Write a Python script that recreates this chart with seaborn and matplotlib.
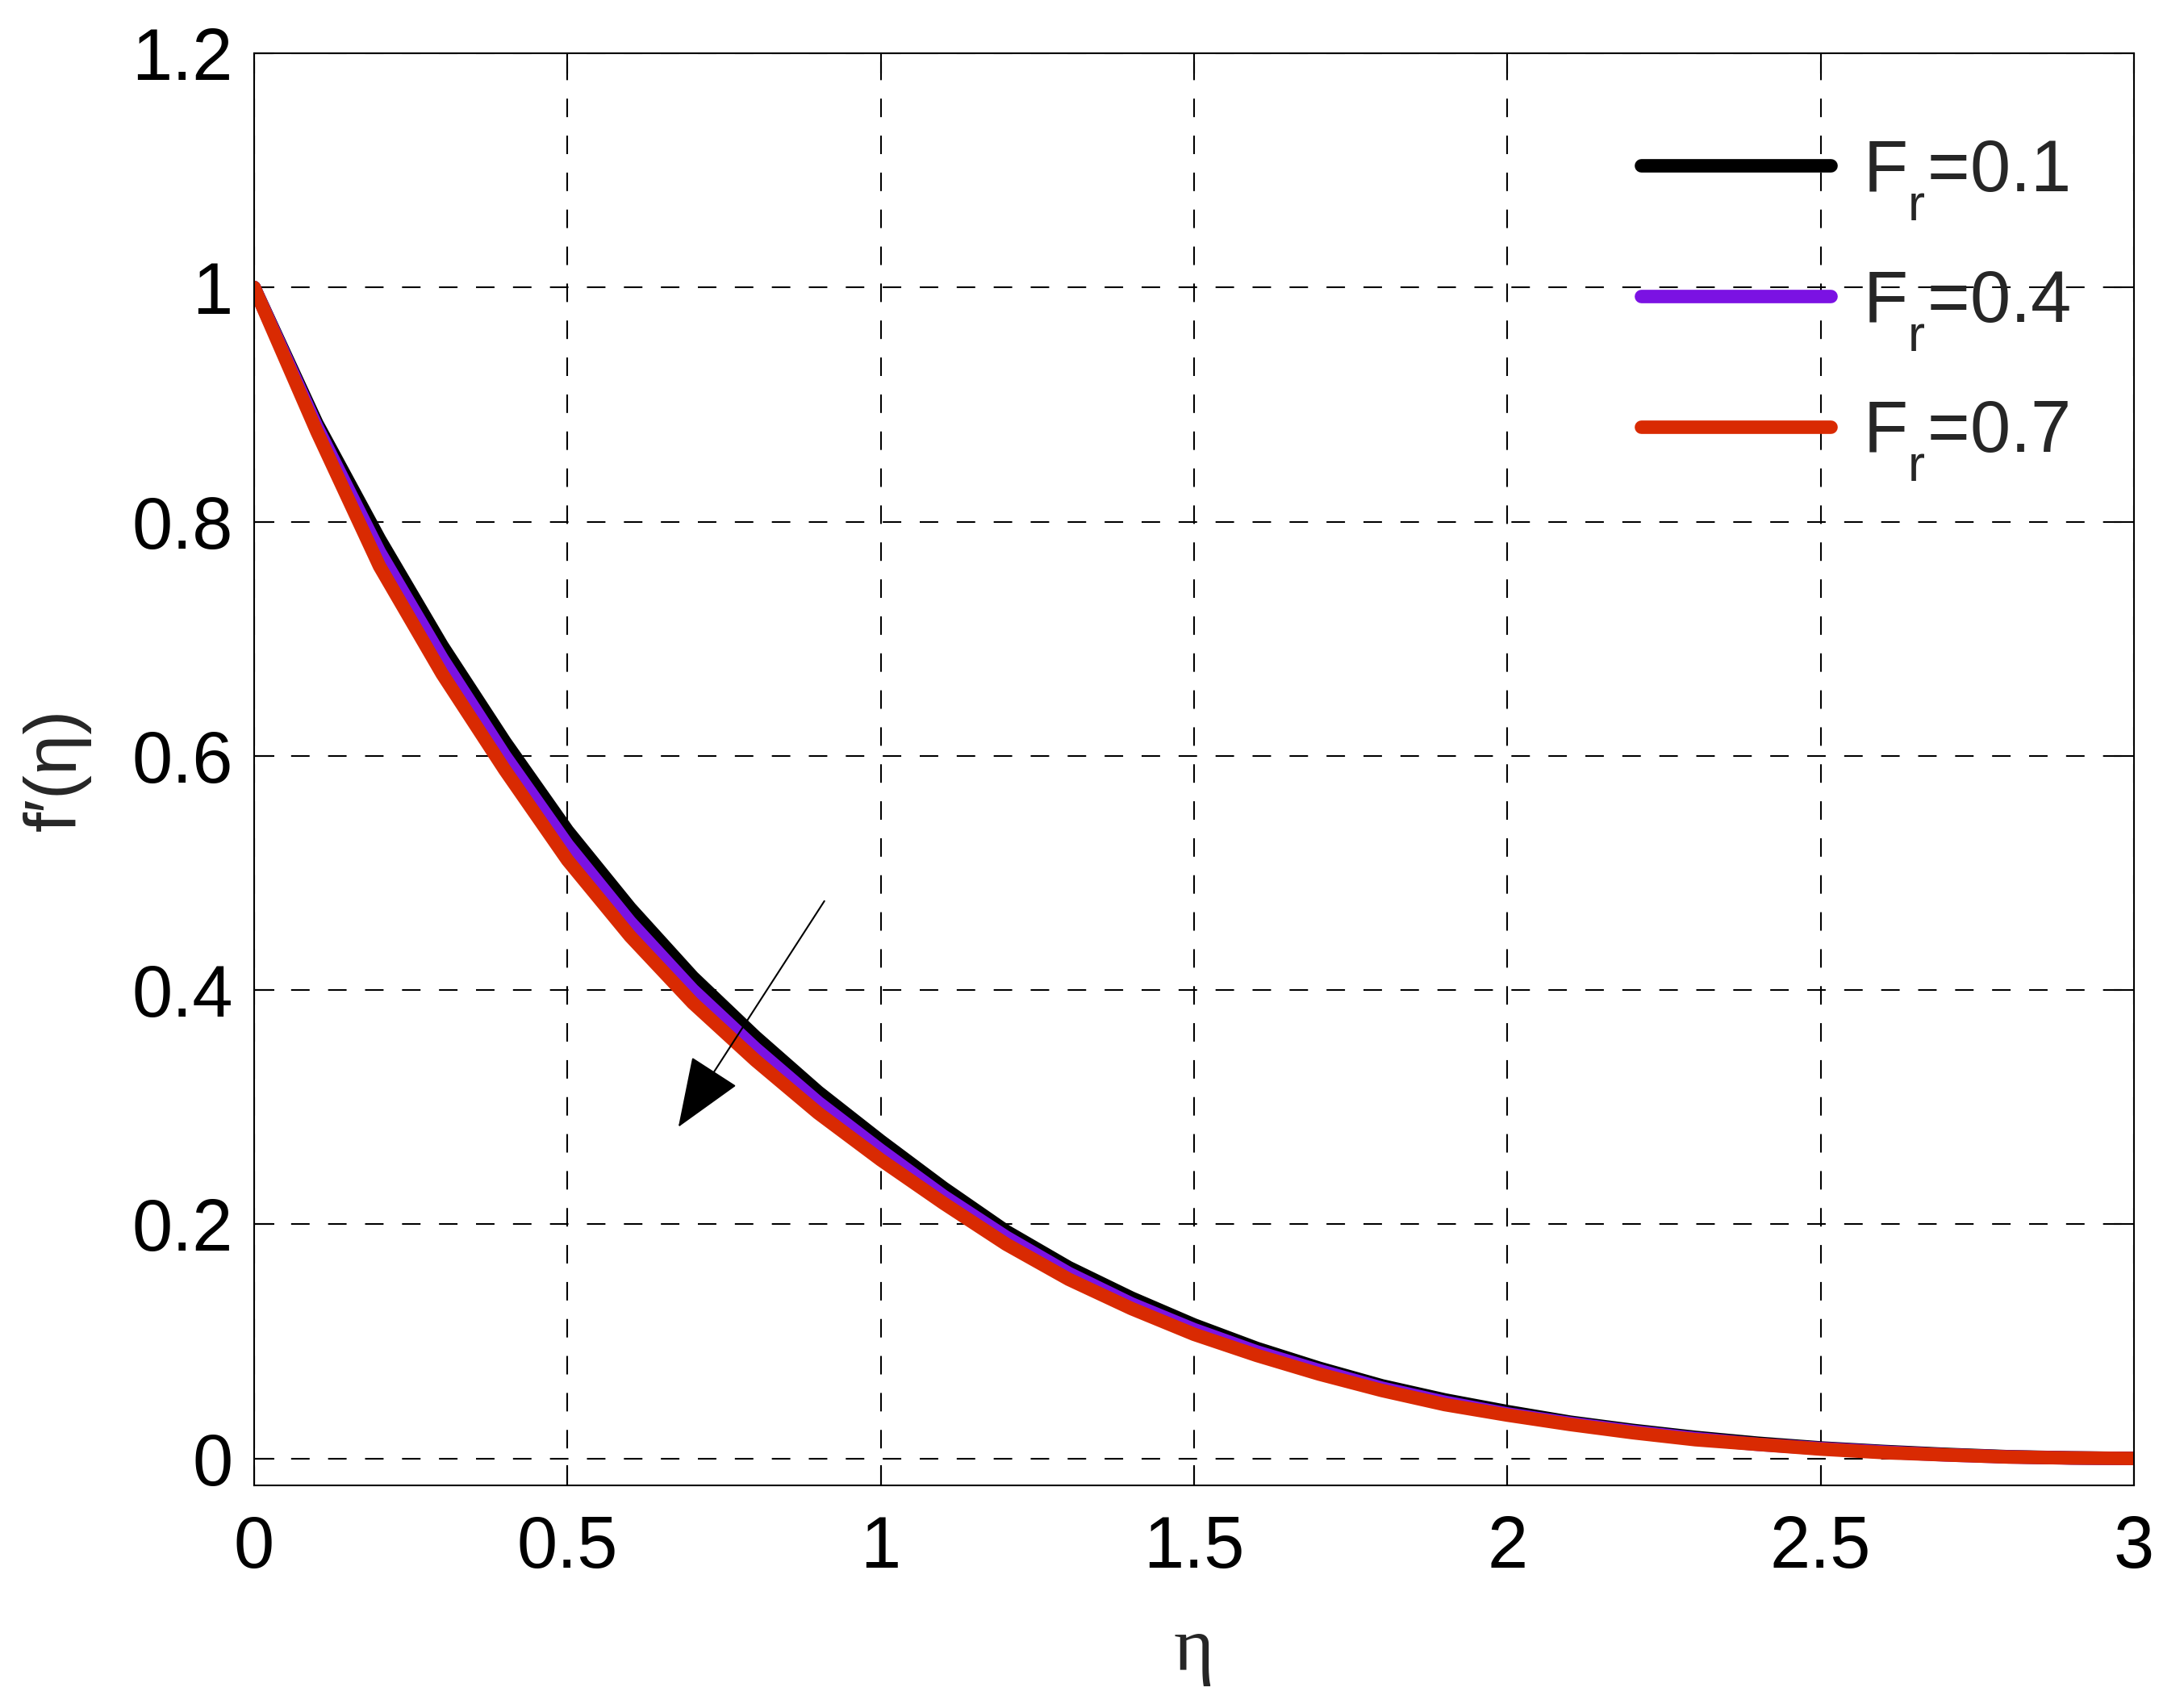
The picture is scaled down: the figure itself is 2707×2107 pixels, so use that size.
import numpy as np
import pandas as pd
import matplotlib
matplotlib.use("Agg")
import matplotlib.pyplot as plt
from matplotlib.lines import Line2D
import matplotlib._mathtext as _mt
import seaborn as sns

# ---------------- data ----------------
eta = [0.0, 0.1, 0.2, 0.3, 0.4, 0.5, 0.6, 0.7, 0.8, 0.9, 1.0,
       1.1, 1.2, 1.3, 1.4, 1.5, 1.6, 1.7, 1.8, 1.9, 2.0,
       2.1, 2.2, 2.3, 2.4, 2.5, 2.6, 2.7, 2.8, 2.9, 3.0]

fp_fr01 = [1.000, 0.884, 0.785, 0.694, 0.612, 0.536, 0.470, 0.411, 0.360, 0.313, 0.271,
           0.231, 0.194, 0.163, 0.137, 0.114, 0.094, 0.077, 0.062, 0.050, 0.040,
           0.031, 0.024, 0.018, 0.013, 0.009, 0.006, 0.0035, 0.0015, 0.0005, 0.0]
fp_fr04 = [1.000, 0.881, 0.774, 0.683, 0.600, 0.524, 0.458, 0.400, 0.350, 0.304, 0.263,
           0.224, 0.189, 0.158, 0.132, 0.110, 0.091, 0.075, 0.060, 0.048, 0.038,
           0.030, 0.023, 0.017, 0.012, 0.0085, 0.0055, 0.003, 0.0013, 0.0004, 0.0]
fp_fr07 = [1.000, 0.877, 0.762, 0.670, 0.588, 0.511, 0.446, 0.389, 0.340, 0.295, 0.255,
           0.218, 0.183, 0.153, 0.128, 0.106, 0.088, 0.072, 0.058, 0.046, 0.037,
           0.029, 0.022, 0.016, 0.012, 0.008, 0.005, 0.003, 0.0012, 0.0004, 0.0]

series_labels = [r"F$_{\mathregular{r}}$=0.1", r"F$_{\mathregular{r}}$=0.4", r"F$_{\mathregular{r}}$=0.7"]
series_colors = ["#000000", "#7B12E3", "#D92A02"]

xticks = [0, 0.5, 1, 1.5, 2, 2.5, 3]
xticklabels = ["0", "0.5", "1", "1.5", "2", "2.5", "3"]
yticks = [0, 0.2, 0.4, 0.6, 0.8, 1.0, 1.2]
yticklabels = ["0", "0.2", "0.4", "0.6", "0.8", "1", "1.2"]

arrow_tail = (0.910, 0.476)
arrow_head = (0.677, 0.283)

# ---------------- style ----------------
sns.set_theme(style="white")
plt.rcParams['font.family'] = ['Liberation Sans', 'DejaVu Sans']
plt.rcParams['mathtext.fontset'] = 'custom'
plt.rcParams['mathtext.rm'] = 'Liberation Sans'
plt.rcParams['mathtext.it'] = 'Liberation Sans:italic'
plt.rcParams['mathtext.bf'] = 'Liberation Sans:bold'
# lower subscripts like the reference (MATLAB-style)
try:
    _mt.FontConstantsBase.sub1 = 0.75
    _mt.FontConstantsBase.sub2 = 0.75
except Exception:
    pass

FS = 65
LW = 12

fig = plt.figure(figsize=(27.07, 21.07), dpi=100)
ax = fig.add_axes([315/2707, (2107-1841)/2107, (2645-315)/2707, (1841-66)/2107])

df = pd.DataFrame({
    "eta": eta * 3,
    "fp": fp_fr01 + fp_fr04 + fp_fr07,
    "series": [series_labels[0]] * len(eta) + [series_labels[1]] * len(eta) + [series_labels[2]] * len(eta),
})

sns.lineplot(data=df, x="eta", y="fp", hue="series", hue_order=series_labels,
             palette=series_colors, linewidth=LW, ax=ax, legend=False,
             estimator=None, sort=False)

ax.set_xlim(0, 3)
ax.set_ylim(-0.023, 1.2)
ax.set_xticks(xticks)
ax.set_xticklabels(xticklabels)
ax.set_yticks(yticks)
ax.set_yticklabels(yticklabels)

ax.set_axisbelow(True)
ax.grid(True, color="black", linestyle=(0, (11, 11)), linewidth=1.5)

for s in ax.spines.values():
    s.set_visible(True)
    s.set_color("black")
    s.set_linewidth(1.5)

ax.tick_params(axis="both", direction="in", length=18, width=1.5, colors="black",
               bottom=True, left=True, top=True, right=True, labelsize=FS)
ax.tick_params(axis="x", pad=26)
ax.tick_params(axis="y", pad=19)

ax.set_xlabel("η", fontsize=FS + 4, family=["Liberation Serif", "DejaVu Serif"], labelpad=30)
ax.set_ylabel("f′(η)", fontsize=FS, labelpad=36)

ax.annotate("", xy=arrow_head, xytext=arrow_tail,
            arrowprops=dict(arrowstyle="-|>,head_length=1.4,head_width=0.55",
                            color="black", lw=1.5, mutation_scale=40,
                            shrinkA=0, shrinkB=0))

handles = [Line2D([0], [0], color=c, lw=LW) for c in series_colors]
ax.legend(handles, series_labels, loc="upper left", bbox_to_anchor=(0.7377, 0.941),
          frameon=False, fontsize=FS, handlelength=2.6, handletextpad=0.45,
          labelspacing=0.64, borderpad=0, borderaxespad=0)

fig.savefig("out.png", dpi=100, facecolor="white")
